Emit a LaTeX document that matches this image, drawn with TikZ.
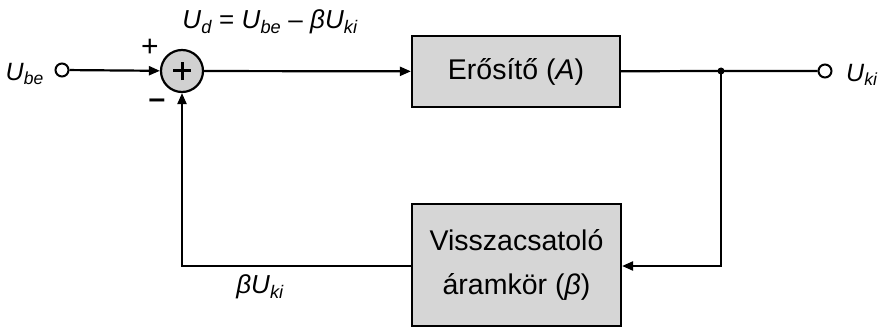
\documentclass[tikz,border=0pt]{standalone}
\usepackage{fontspec}
\setmainfont{Liberation Sans}
\usetikzlibrary{arrows.meta}
\newcommand{\Uvar}[1]{\textit{U}\textsubscript{\itshape #1}}
\begin{document}
\begin{tikzpicture}[x=1pt,y=-1pt,
  wire/.style={line width=2.2pt},
  flow/.style={wire,-{Triangle[length=11pt,width=9pt]}},
  blockbox/.style={draw,line width=2.2pt,fill=black!16,inner sep=0pt},
  terminal/.style={circle,draw,line width=2pt,fill=white,minimum size=13pt,inner sep=0pt},
  lbl/.style={inner sep=0pt}]
\useasboundingbox (0,0) rectangle (878,329);

% input and output terminals
\node[terminal] (in) at (62,70) {};
\node[lbl,anchor=east,font=\fontsize{25}{28}\selectfont] (ubelbl) at (44,74) {\Uvar{be}};
\node[terminal] (out) at (825,71) {};
\node[lbl,anchor=west,font=\fontsize{25}{28}\selectfont] (ukilbl) at (846,75) {\Uvar{ki}};

% summing junction
\node[circle,draw,line width=2.2pt,fill=black!18,minimum size=42pt,inner sep=0pt] (sum) at (182,71) {};
\draw[line width=3pt] ([xshift=-9pt]sum.center) -- ([xshift=9pt]sum.center)
  ([yshift=-9pt]sum.center) -- ([yshift=9pt]sum.center);
\node[lbl,font=\fontsize{30}{30}\selectfont] (plus) at (150,48) {+};
\node[lbl,font=\fontsize{30}{30}\selectfont] (minus) at (157,104) {\textbf{--}};

% blocks
\node[blockbox,minimum width=208pt,minimum height=71pt,font=\fontsize{28.5}{30}\selectfont] (amp) at (516,71.5) {Erősítő (\textit{A})};
\node[blockbox,minimum width=209pt,minimum height=122pt,font=\fontsize{28.5}{30}\selectfont,align=center] (fb) at (516.5,265)
  {Visszacsatoló\\[14pt]áramkör (\textit{β})};

% branch point
\coordinate (br) at (721,71);
\fill (br) circle (3.5pt);
\coordinate (brdown) at (721,266);
\coordinate (fbleft) at (182,266);

% connections
\draw[flow] (in) -- (sum);
\draw[flow] (sum) -- (amp);
\draw[wire] (amp) -- (br) -- (out);
\draw[flow] (br) -- (brdown) -- (brdown -| fb.east);
\draw[flow] (fb.west |- fbleft) -- (fbleft) -- (sum);

% signal labels
\node[lbl,font=\fontsize{26}{28}\selectfont] (udlbl) at (270,22) {\Uvar{d} = \Uvar{be} -- \textit{β}\Uvar{ki}};
\node[lbl,font=\fontsize{26}{28}\selectfont] (fblbl) at (260,287) {\textit{β}\Uvar{ki}};
\end{tikzpicture}
\end{document}
